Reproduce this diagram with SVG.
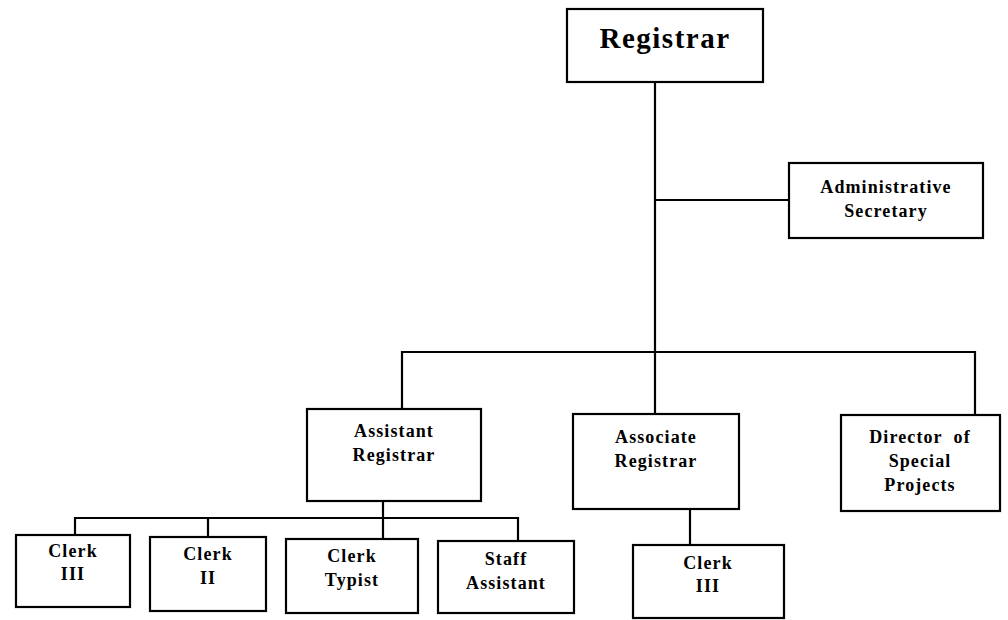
<svg xmlns="http://www.w3.org/2000/svg" width="1008" height="620" viewBox="0 0 1008 620">
<style>
.box{fill:#fff;stroke:#000;stroke-width:2.2}
.ln{fill:none;stroke:#000;stroke-width:2.2}
text{font-family:"Liberation Serif","Times New Roman",serif;font-weight:bold;font-size:18px;letter-spacing:1.1px;text-anchor:middle;fill:#000}
.big{font-size:29px;letter-spacing:1.5px}
</style>
<rect width="1008" height="620" fill="#fff"/>
<g id="connectors">
<path class="ln" d="M655 82V352"/>
<path class="ln" d="M655 200H789"/>
<path class="ln" d="M402 409V352H975V415"/>
<path class="ln" d="M655 352V414"/>
<path class="ln" d="M383 501V518"/>
<path class="ln" d="M75 535V518H518V541"/>
<path class="ln" d="M208 518V537"/>
<path class="ln" d="M383 518V539"/>
<path class="ln" d="M690 509V545"/>
</g>
<g id="registrar"><rect class="box" x="567" y="9" width="196" height="73"/><text class="big" x="665" y="48">Registrar</text></g>
<g id="admin-secretary"><rect class="box" x="789" y="163" width="194" height="75"/><text x="886" y="193">Administrative</text><text x="886" y="217">Secretary</text></g>
<g id="assistant-registrar"><rect class="box" x="307" y="409" width="174" height="92"/><text x="394" y="437">Assistant</text><text x="394" y="461">Registrar</text></g>
<g id="associate-registrar"><rect class="box" x="573" y="414" width="166" height="95"/><text x="656" y="443">Associate</text><text x="656" y="467">Registrar</text></g>
<g id="director"><rect class="box" x="841" y="415" width="159" height="96"/><text x="920" y="443" xml:space="preserve">Director  of</text><text x="920" y="467">Special</text><text x="920" y="491">Projects</text></g>
<g id="clerk-iii-a"><rect class="box" x="16" y="535" width="114" height="72"/><text x="73" y="557">Clerk</text><text x="73" y="580">III</text></g>
<g id="clerk-ii"><rect class="box" x="150" y="537" width="116" height="74"/><text x="208" y="560">Clerk</text><text x="208" y="584">II</text></g>
<g id="clerk-typist"><rect class="box" x="286" y="539" width="132" height="74"/><text x="352" y="562">Clerk</text><text x="352" y="586">Typist</text></g>
<g id="staff-assistant"><rect class="box" x="438" y="541" width="136" height="72"/><text x="506" y="565">Staff</text><text x="506" y="589">Assistant</text></g>
<g id="clerk-iii-b"><rect class="box" x="633" y="545" width="151" height="73"/><text x="708" y="569">Clerk</text><text x="708" y="592">III</text></g>
</svg>
